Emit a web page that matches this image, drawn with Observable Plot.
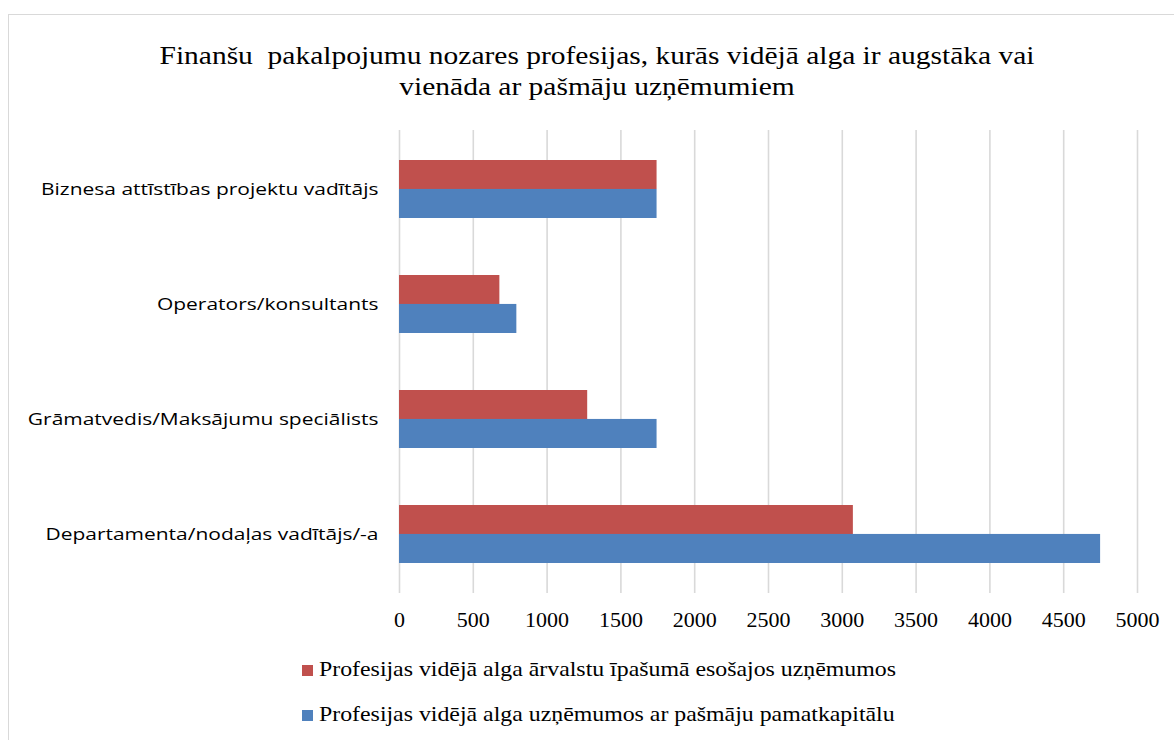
<!DOCTYPE html>
<html>
<head>
<meta charset="utf-8">
<script src="https://cdn.jsdelivr.net/npm/d3@7"></script>
<script src="https://cdn.jsdelivr.net/npm/@observablehq/plot@0.6"></script>
<style>
  html, body { margin: 0; padding: 0; background: #fff; }
  #wrap { position: relative; width: 1174px; height: 740px; overflow: hidden; }
  #frame { position: absolute; left: 8px; top: 14px; width: 1180px; height: 760px; border: 1px solid #d9d9d9; box-sizing: border-box; }
  #title { position: absolute; left: 0; width: 1194px; top: 40px; text-align: center; font-family: "Liberation Serif", serif; font-size: 25px; line-height: 31px; color: #000; white-space: pre; transform-origin: 597px 0; }
  #chart { position: absolute; left: 0; top: 0; }
  .leg { position: absolute; left: 302px; font-family: "Liberation Serif", serif; font-size: 21px; color: #000; white-space: pre; transform-origin: 0 50%; }
  .leg .sw { position: absolute; left: 0; top: 50%; width: 11px; height: 11px; margin-top: -5px; }
  .leg .tx { position: absolute; left: 17px; top: 0; transform-origin: 0 50%; }
</style>
</head>
<body>
<div id="wrap">
  <div id="frame"></div>
  <div id="chart"></div>
  <div id="title"><span id="t1">Finanšu  pakalpojumu nozares profesijas, kurās vidējā alga ir augstāka vai</span>
<span id="t2">vienāda ar pašmāju uzņēmumiem</span></div>
  <div id="legend"></div>
</div>
<script>
const categories = [
  "Biznesa attīstības projektu vadītājs",
  "Operators/konsultants",
  "Grāmatvedis/Maksājumu speciālists",
  "Departamenta/nodaļas vadītājs/-a"
];
const seriesNames = [
  "Profesijas vidējā alga ārvalstu īpašumā esošajos uzņēmumos",
  "Profesijas vidējā alga uzņēmumos ar pašmāju pamatkapitālu"
];
const seriesColors = ["#C0504D", "#4F81BD"];
const foreignValues = [1745, 680, 1275, 3075];
const domesticValues = [1745, 795, 1745, 4750];
const xTicks = [0, 500, 1000, 1500, 2000, 2500, 3000, 3500, 4000, 4500, 5000];

const foreign = categories.map((c, i) => ({category: c, value: foreignValues[i]}));
const domestic = categories.map((c, i) => ({category: c, value: domesticValues[i]}));

const H = 660, MT = 130, MB = 67;
const bandStep = (H - MT - MB) / 4;
const half = bandStep * 0.5 / 2;

const chart = Plot.plot({
  width: 1174,
  height: H,
  marginLeft: 399,
  marginRight: 37,
  marginTop: MT,
  marginBottom: MB,
  style: {background: "transparent", overflow: "visible"},
  x: {domain: [0, 5000], ticks: xTicks, tickFormat: d => String(d), label: null, tickSize: 0, tickPadding: 18, grid: false},
  y: {domain: categories, paddingInner: 0.5, paddingOuter: 0.25, label: null, tickSize: 0, tickPadding: 21},
  marks: [
    Plot.ruleX(xTicks, {stroke: "#d9d9d9", strokeWidth: 1.6}),
    Plot.barX(foreign, {x: "value", y: "category", fill: seriesColors[0], insetBottom: half}),
    Plot.barX(domestic, {x: "value", y: "category", fill: seriesColors[1], insetTop: half})
  ]
});
const svg = d3.select(chart);
svg.selectAll("[aria-label='x-axis tick label'] text, [aria-label='x-axis tick label']")
  .style("font-family", "'Liberation Serif', serif").style("font-size", "22px").attr("fill", "#000");
svg.selectAll("[aria-label='y-axis tick label'] text, [aria-label='y-axis tick label']")
  .style("font-family", "'Open Sans', sans-serif").style("font-size", "16.5px").attr("fill", "#000");
document.getElementById("chart").appendChild(chart);

// stretch category labels horizontally to match the reference's wide rendering
const yTexts = svg.selectAll("[aria-label='y-axis tick label'] text").nodes();
let maxW = 0;
yTexts.forEach(t => { maxW = Math.max(maxW, t.getComputedTextLength()); });
const ys = 351 / maxW;
yTexts.forEach(t => {
  const tr = t.getAttribute("transform") || "";
  t.setAttribute("transform", tr + ` scale(${ys},1)`);
});

// title stretch
const t1 = document.getElementById("t1");
const tScale = 875 / t1.getBoundingClientRect().width;
document.getElementById("title").style.transform = `scaleX(${tScale})`;

const legend = document.getElementById("legend");
const legTops = [657, 702];
seriesNames.forEach((name, i) => {
  const row = document.createElement("div");
  row.className = "leg";
  row.style.top = legTops[i] + "px";
  row.style.height = "26px";
  const sw = document.createElement("span");
  sw.className = "sw";
  sw.style.background = seriesColors[i];
  row.appendChild(sw);
  const tx = document.createElement("span");
  tx.className = "tx";
  tx.textContent = name;
  row.appendChild(tx);
  legend.appendChild(row);
});
const firstTx = legend.querySelector(".tx");
const lScale = 577 / firstTx.getBoundingClientRect().width;
legend.querySelectorAll(".tx").forEach(el => { el.style.transform = `scaleX(${lScale})`; });
</script>
</body>
</html>
